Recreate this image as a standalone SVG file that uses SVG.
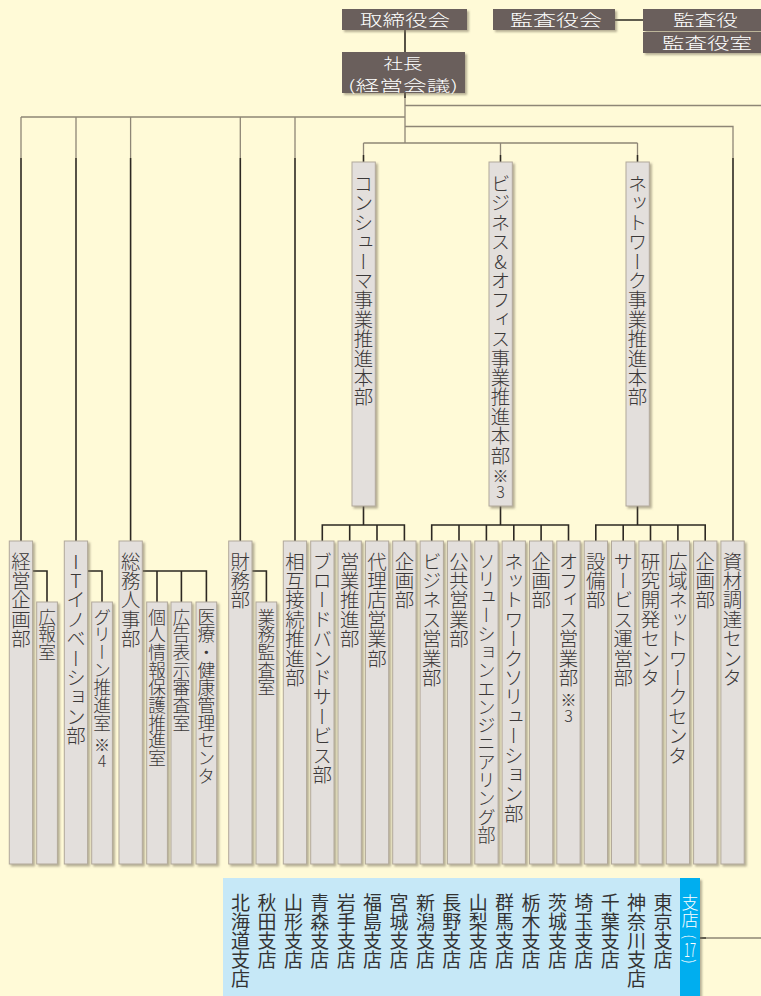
<svg xmlns="http://www.w3.org/2000/svg" width="761" height="996" viewBox="0 0 761 996">
<defs>
<filter id="sh" x="-30%" y="-10%" width="170%" height="130%"><feDropShadow dx="2" dy="2" stdDeviation="0.8" flood-color="#7a6f5c" flood-opacity="0.55"/></filter>
<style>
.bg{fill:#FFFAD7}
.box{fill:#E3DFDC;stroke:#B2A99B;stroke-width:1;filter:url(#sh)}
.top{fill:#6B5E5C;filter:url(#sh)}
.tw{font-family:"Noto Sans CJK JP","Noto Sans",sans-serif;font-weight:300;fill:#ffffff;font-size:16px}
.v{font-family:"Noto Sans CJK JP","Noto Sans",sans-serif;font-weight:300;writing-mode:vertical-rl;text-orientation:upright;fill:#3b3838;font-size:19.4px}
.vs{font-size:17.7px}
.note{font-size:16px}
.br{font-size:19px;fill:#333333;font-weight:400}
.g{stroke:#8E8676;stroke-width:1.3;fill:none}
.d{stroke:#2D2822;stroke-width:1.6;fill:none}
.wt{font-family:"Noto Sans CJK JP","Noto Sans",sans-serif;font-weight:300;fill:#ffffff}
</style>
</defs>
<rect class="bg" x="0" y="0" width="761" height="996"/>

<g id="connectors">
<path class="d" d="M405 30V52 M615 20H643 M405 93V98"/>
<path class="g" d="M405 98V143 M405 105.5H761 M21 117H405 M405 126.5H733V158 M363.5 143H637.5 M363.5 143V155 M500.5 143V155 M637.5 143V155 M21 117V158 M76 117V158 M130.6 117V158 M240.3 117V158 M295 117V158 M706 938H761"/>
<path class="d" d="M21 158V541 M76 158V541 M130.6 158V541 M240.3 158V541 M295 158V541 M733 158V541 M363.5 155V162 M500.5 155V162 M637.5 155V162"/>
<path class="d" d="M363.5 506V525 M322.3 541V525H404.4V541 M349.7 525V541 M377 525V541"/>
<path class="d" d="M500.5 506V525 M431.7 541V525H568.5V541 M459 525V541 M486.4 525V541 M513.8 525V541 M541.1 525V541"/>
<path class="d" d="M637.5 506V525 M595.8 541V525H705.2V541 M623.2 525V541 M650.5 525V541 M677.9 525V541"/>
<path class="d" d="M32.7 571H47V602 M87.7 571H102V602 M142.3 571H206.4V602 M157 571V602 M181.4 571V602 M251.3 571H266.4V602 M700 938H706"/>
</g>

<g id="torishimariyakukai"><rect class="top" x="342" y="9" width="125" height="21"/><text class="tw" x="405" y="26" text-anchor="middle" textLength="90" lengthAdjust="spacingAndGlyphs">取締役会</text></g>
<g id="kansayakukai"><rect class="top" x="493" y="9" width="122" height="21"/><text class="tw" x="556" y="26" text-anchor="middle" textLength="92" lengthAdjust="spacingAndGlyphs">監査役会</text></g>
<g id="kansayaku"><rect class="top" x="643" y="9" width="120" height="22"/><text class="tw" x="705.5" y="26" text-anchor="middle" textLength="65" lengthAdjust="spacingAndGlyphs">監査役</text></g>
<g id="kansayakushitsu"><rect class="top" x="643" y="32" width="120" height="21"/><text class="tw" x="707" y="48.5" text-anchor="middle" textLength="90" lengthAdjust="spacingAndGlyphs">監査役室</text></g>
<g id="shacho"><rect class="top" x="342" y="52" width="123" height="41"/><text class="tw" text-anchor="middle" style="font-size:15px"><tspan x="403" y="68.5" textLength="39" lengthAdjust="spacingAndGlyphs">社長</tspan><tspan x="403" y="90.5" textLength="110" lengthAdjust="spacingAndGlyphs">(経営会議)</tspan></text></g>

<g id="consumer-hq"><rect class="box" x="352" y="162" width="23.3" height="344"/><text class="v" x="363.5" y="174">コンシューマ事業推進本部</text></g>
<g id="business-hq"><rect class="box" x="489" y="162" width="23.3" height="344"/><text class="v" x="500.5" y="174">ビジネス&amp;オフィス事業推進本部</text><text class="v note" x="500.5" y="468">※3</text></g>
<g id="network-hq"><rect class="box" x="626" y="162" width="23.3" height="344"/><text class="v" x="637.5" y="174">ネットワーク事業推進本部</text></g>

<g id="keiei-kikakubu"><rect class="box" x="9.3" y="541" width="23.3" height="323"/><text class="v" x="21" y="551.5">経営企画部</text></g>
<g id="kohoshitsu"><rect class="box" x="36.7" y="602" width="20.7" height="262"/><text class="v vs" x="47" y="608">広報室</text></g>
<g id="it-innovation"><rect class="box" x="64.3" y="541" width="23.3" height="323"/><text class="v" x="76" y="551.5">ITイノベーション部</text></g>
<g id="green"><rect class="box" x="91.7" y="602" width="20.7" height="262"/><text class="v vs" x="102" y="608">グリーン推進室</text><text class="v note" x="102" y="737">※4</text></g>
<g id="somu-jinji"><rect class="box" x="119" y="541" width="23.3" height="323"/><text class="v" x="130.6" y="551.5">総務人事部</text></g>
<g id="kojin-joho"><rect class="box" x="146.7" y="602" width="20.7" height="262"/><text class="v vs" x="157" y="608">個人情報保護推進室</text></g>
<g id="kokoku"><rect class="box" x="171" y="602" width="20.7" height="262"/><text class="v vs" x="181.4" y="608">広告表示審査室</text></g>
<g id="iryo"><rect class="box" x="196" y="602" width="20.7" height="262"/><text class="v vs" x="206.4" y="608">医療・健康管理センタ</text></g>
<g id="zaimu"><rect class="box" x="228.7" y="541" width="23.3" height="323"/><text class="v" x="240.3" y="551.5">財務部</text></g>
<g id="gyomu-kansa"><rect class="box" x="256" y="602" width="20.7" height="262"/><text class="v vs" x="266.4" y="608">業務監査室</text></g>
<g id="sogo-setsuzoku"><rect class="box" x="283.3" y="541" width="23.3" height="323"/><text class="v" x="295" y="551.5">相互接続推進部</text></g>
<g id="broadband"><rect class="box" x="310.7" y="541" width="23.3" height="323"/><text class="v" x="322.3" y="551.5">ブロードバンドサービス部</text></g>
<g id="eigyo-suishin"><rect class="box" x="338" y="541" width="23.3" height="323"/><text class="v" x="349.7" y="551.5">営業推進部</text></g>
<g id="dairiten"><rect class="box" x="365.4" y="541" width="23.3" height="323"/><text class="v" x="377" y="551.5">代理店営業部</text></g>
<g id="c-kikaku"><rect class="box" x="392.7" y="541" width="23.3" height="323"/><text class="v" x="404.4" y="551.5">企画部</text></g>
<g id="business-eigyo"><rect class="box" x="420.1" y="541" width="23.3" height="323"/><text class="v" x="431.7" y="551.5">ビジネス営業部</text></g>
<g id="kokyo-eigyo"><rect class="box" x="447.4" y="541" width="23.3" height="323"/><text class="v" x="459" y="551.5">公共営業部</text></g>
<g id="solution-eng"><rect class="box" x="474.8" y="541" width="23.3" height="323"/><text class="v" x="486.4" y="551.5" style="font-size:18.3px">ソリューションエンジニアリング部</text></g>
<g id="network-solution"><rect class="box" x="502.1" y="541" width="23.3" height="323"/><text class="v" x="513.8" y="551.5">ネットワークソリューション部</text></g>
<g id="b-kikaku"><rect class="box" x="529.5" y="541" width="23.3" height="323"/><text class="v" x="541.1" y="551.5">企画部</text></g>
<g id="office-eigyo"><rect class="box" x="556.8" y="541" width="23.3" height="323"/><text class="v" x="568.5" y="551.5">オフィス営業部</text><text class="v note" x="568.5" y="692">※3</text></g>
<g id="setsubi"><rect class="box" x="584.2" y="541" width="23.3" height="323"/><text class="v" x="595.8" y="551.5">設備部</text></g>
<g id="service-unei"><rect class="box" x="611.5" y="541" width="23.3" height="323"/><text class="v" x="623.2" y="551.5">サービス運営部</text></g>
<g id="kenkyu"><rect class="box" x="638.9" y="541" width="23.3" height="323"/><text class="v" x="650.5" y="551.5">研究開発センタ</text></g>
<g id="koiki-network"><rect class="box" x="666.2" y="541" width="23.3" height="323"/><text class="v" x="677.9" y="551.5">広域ネットワークセンタ</text></g>
<g id="n-kikaku"><rect class="box" x="693.6" y="541" width="23.3" height="323"/><text class="v" x="705.2" y="551.5">企画部</text></g>
<g id="shizai"><rect class="box" x="720.9" y="541" width="23.3" height="323"/><text class="v" x="732.5" y="551.5">資材調達センタ</text></g>

<g id="shiten">
<rect x="223" y="878" width="457" height="118" fill="#C6E8F7"/>
<rect x="680" y="878" width="20" height="118" fill="#00AEEF" filter="url(#sh)"/>
<text class="v" x="690" y="894" style="fill:#ffffff;font-size:17px">支店</text>
<text class="wt" transform="translate(690,936.5) rotate(90)" text-anchor="middle" dominant-baseline="central" style="font-size:15px">(</text>
<text class="wt" x="690" y="957" text-anchor="middle" style="font-size:19px" textLength="12" lengthAdjust="spacingAndGlyphs">17</text>
<text class="wt" transform="translate(690,961.5) rotate(90)" text-anchor="middle" dominant-baseline="central" style="font-size:15px">)</text>
<text class="v br" x="663" y="893">東京支店</text>
<text class="v br" x="636.6" y="893">神奈川支店</text>
<text class="v br" x="610.2" y="893">千葉支店</text>
<text class="v br" x="583.8" y="893">埼玉支店</text>
<text class="v br" x="557.4" y="893">茨城支店</text>
<text class="v br" x="531" y="893">栃木支店</text>
<text class="v br" x="504.6" y="893">群馬支店</text>
<text class="v br" x="478.2" y="893">山梨支店</text>
<text class="v br" x="451.8" y="893">長野支店</text>
<text class="v br" x="425.4" y="893">新潟支店</text>
<text class="v br" x="399" y="893">宮城支店</text>
<text class="v br" x="372.6" y="893">福島支店</text>
<text class="v br" x="346.2" y="893">岩手支店</text>
<text class="v br" x="319.8" y="893">青森支店</text>
<text class="v br" x="293.4" y="893">山形支店</text>
<text class="v br" x="267" y="893">秋田支店</text>
<text class="v br" x="240.6" y="893">北海道支店</text>
</g>
</svg>
